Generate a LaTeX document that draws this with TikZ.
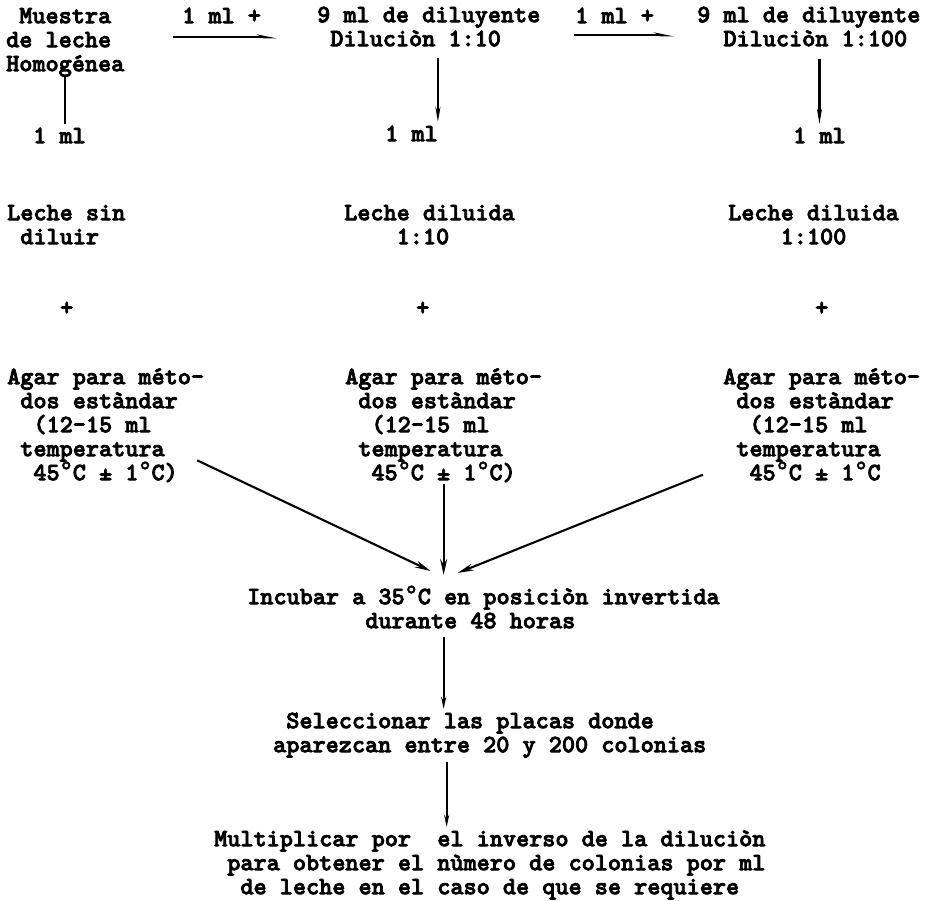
\documentclass[tikz,border=0pt]{standalone}
\usepackage{fontspec}
\newfontfamily\twfam{lmmonolt10-bold}[Extension=.otf, FakeBold=3]
\newfontfamily\dgfam{DejaVu Sans Mono}[FakeBold=1.5]
\usetikzlibrary{arrows.meta}
\newcommand\twfont{\twfam\fontsize{25}{24}\selectfont}
\newcommand\sk{\phantom{0}}
\newcommand\dg{\makebox[13.125pt]{\dgfam °}}
\newcommand\tstrut{\rule{0pt}{19pt}}
\tikzset{
  tw/.style={font=\twfont, inner sep=0pt, align=left, anchor=north west},
  conn/.style={line width=2.1pt},
  arr/.style={conn, -{Stealth[length=16pt,width=7pt]}},
  arrv/.style={conn, -{Stealth[length=15pt,width=5pt]}},
  arrh/.style={conn, -{Stealth[length=15pt,width=6pt,left]}},
  arrs/.style={conn, -{Stealth[length=12pt,width=5pt]}},
}
\begin{document}
\begin{tikzpicture}[x=1pt,y=-1pt]
\useasboundingbox[fill=white] (0,0) rectangle (928,901);
% top row
\node[tw] (m1) at (6,4) {\tstrut\sk Muestra\\de leche\\Homogénea};
\node[tw] (t1) at (182,4) {\tstrut 1 ml +};
\node[tw] (d1) at (317,3) {\tstrut 9 ml de diluyente\\\sk Diluciòn 1:10};
\node[tw] (t2) at (575,4) {\tstrut 1 ml +};
\node[tw] (d2) at (697,3) {\tstrut 9 ml de diluyente\\\sk\sk Diluciòn 1:100};
% 1 ml
\node[tw] (ml0) at (33,124) {\tstrut 1 ml};
\node[tw] (ml1) at (385,122) {\tstrut 1 ml};
\node[tw] (ml2) at (793,124) {\tstrut 1 ml};
% leche
\node[tw] (l0) at (7,201) {\tstrut Leche sin\\\sk diluir};
\node[tw] (l1) at (344,201) {\tstrut Leche diluida\\\sk\sk\sk\sk 1:10};
\node[tw] (l2) at (728,201) {\tstrut Leche diluida\\\sk\sk\sk\sk 1:100};
% plus
\node[tw] (p0) at (60,296) {\tstrut +};
\node[tw] (p1) at (416,296) {\tstrut +};
\node[tw] (p2) at (815,296) {\tstrut +};
% agar
\node[tw] (a0) at (7,365) {\tstrut Agar para méto-\\\sk dos estàndar\\\sk\sk (12-15 ml\\\sk temperatura\\\sk\sk 45\dg C ± 1\dg C)};
\node[tw] (a1) at (345,365) {\tstrut Agar para méto-\\\sk dos estàndar\\\sk\sk (12-15 ml\\\sk temperatura\\\sk\sk 45\dg C ± 1\dg C)};
\node[tw] (a2) at (723,365) {\tstrut Agar para méto-\\\sk dos estàndar\\\sk\sk (12-15 ml\\\sk temperatura\\\sk\sk 45\dg C ± 1\dg C};
% bottom
\node[tw] (inc) at (247,585) {\tstrut Incubar a 35\dg C en posiciòn invertida\\\sk\sk\sk\sk\sk\sk\sk\sk\sk durante 48 horas};
\node[tw] (sel) at (273,709) {\tstrut\sk Seleccionar las placas donde\\aparezcan entre 20 y 200 colonias};
\node[tw] (mul) at (214,827) {\tstrut Multiplicar por \sk el inverso de la diluciòn\\\sk para obtener el nùmero de colonias por ml\\\sk\sk de leche en el caso de que se requiere};
% connectors
\draw[arrh] ([xshift=-9pt,yshift=-14pt]t1.south west) -- ([xshift=16pt,yshift=-14pt]t1.south east);
\draw[arrh] ([xshift=-1pt,yshift=-12pt]t2.south west) -- ([xshift=20pt,yshift=-12pt]t2.south east);
\draw[conn, shorten <=-1pt] (m1.south) -- (m1.south |- ml0.north);
\draw[arrv, shorten <=11pt] (d1.south -| ml1.north east) -- (ml1.north east);
\draw[arrv, shorten <=12pt] (d2.south -| ml2.north) -- (ml2.north);
\coordinate (jn) at (a1.south |- inc.north);
\draw[arr] ([xshift=-7pt,yshift=22pt]a0.south east) -- ([xshift=-13pt,yshift=14pt]jn);
\draw[arr, shorten <=2pt] (a1.south) -- ([yshift=10pt]jn);
\draw[arr] ([xshift=-20pt,yshift=6pt]a2.south west) -- ([xshift=14pt,yshift=12pt]jn);
\draw[arrs, shorten <=8pt] (jn |- inc.south) -- (jn |- sel.north);
\draw[arrs, shorten <=4pt] ([xshift=3pt]jn |- sel.south) -- ([xshift=3pt]jn |- mul.north);
\end{tikzpicture}
\end{document}
